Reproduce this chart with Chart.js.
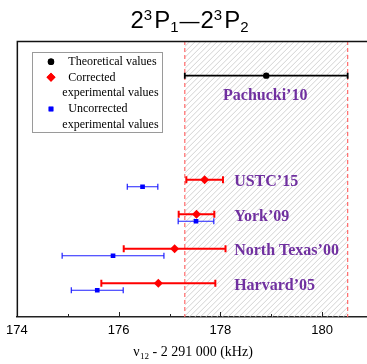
<!DOCTYPE html>
<html>
<head>
<meta charset="utf-8">
<script src="https://cdn.jsdelivr.net/npm/chart.js@4.4.1/dist/chart.umd.min.js"></script>
<style>
  html,body{margin:0;padding:0;background:#fff;overflow:hidden;}
  canvas{display:block;}
</style>
</head>
<body>
<canvas id="chart" width="367" height="364"></canvas>
<script>
// experiments, top to bottom
const labels=['USTC\u201915','York\u201909','North Texas\u201900','Harvard\u201905'];
const corrected=[177.69,177.53,177.10,176.78];
const correctedErr=[0.36,0.35,1.00,1.12];
const uncorrected=[176.47,177.52,175.89,175.58];
const uncorrectedErr=[0.30,0.35,1.00,0.51];
// theory
const theoryLabel='Pachucki\u201910';
const theory=[178.9];
const theoryErr=[1.6];
const xTicks=[174,176,178,180];
const xMinor=[175,177,179];

// layout of rows on a hidden y scale
const THEORY_ROW=7.12, PAIR_OFF=0.1;
const rowOf=i=>labels.length-i;
const PURPLE='#7030a0';

const errorBars={
  id:'errorBars',
  beforeDatasetsDraw(chart){
    const {ctx,scales:{x,y}}=chart;
    chart.data.datasets.forEach(ds=>{
      ctx.save();
      ctx.strokeStyle=ds.borderColor;
      ctx.lineWidth=ds.barWidth;
      ds.data.forEach((p,i)=>{
        const e=ds.errors[i];
        const x0=x.getPixelForValue(p.x-e),x1=x.getPixelForValue(p.x+e),py=y.getPixelForValue(p.y);
        const c=ds.capHalf;
        ctx.beginPath();
        ctx.moveTo(x0,py);ctx.lineTo(x1,py);
        ctx.moveTo(x0,py-c);ctx.lineTo(x0,py+c);
        ctx.moveTo(x1,py-c);ctx.lineTo(x1,py+c);
        ctx.stroke();
      });
      ctx.restore();
    });
  }
};

const backdrop={
  id:'backdrop',
  beforeDatasetsDraw(chart){
    const {ctx,chartArea:a,scales:{x}}=chart;
    const xl=x.getPixelForValue(theory[0]-theoryErr[0]);
    const xr=x.getPixelForValue(theory[0]+theoryErr[0]);
    const h=a.bottom-a.top;
    ctx.save();
    // hatch
    ctx.beginPath();ctx.rect(xl,a.top,xr-xl,h);ctx.clip();
    ctx.strokeStyle='#c6c6c6';ctx.lineWidth=0.8;
    ctx.beginPath();
    for(let s=xl-h;s<xr+10;s+=5.5){
      ctx.moveTo(s,a.bottom);ctx.lineTo(s+h,a.top);
    }
    ctx.stroke();
    ctx.restore();
    // dashed limits
    ctx.save();
    ctx.strokeStyle='#ff6a6a';ctx.lineWidth=1.2;ctx.setLineDash([4,3]);
    [xl,xr].forEach(px=>{ctx.beginPath();ctx.moveTo(px,a.top);ctx.lineTo(px,a.bottom);ctx.stroke();});
    ctx.restore();
    // inward ticks
    ctx.save();
    ctx.lineWidth=1;ctx.strokeStyle='#222';
    ctx.beginPath();
    xTicks.forEach(v=>{const px=Math.round(x.getPixelForValue(v))+0.5;ctx.moveTo(px,a.bottom);ctx.lineTo(px,a.bottom-5);});
    xMinor.forEach(v=>{const px=Math.round(x.getPixelForValue(v))+0.5;ctx.moveTo(px,a.bottom);ctx.lineTo(px,a.bottom-3);});
    ctx.stroke();
    ctx.restore();
  }
};

function drawRuns(ctx,runs,cx,baseY){
  // runs: [text, fontSize, dy, family, gapAfter]
  let w=0;
  runs.forEach(r=>{ctx.font=r[1]+'px '+r[3];w+=ctx.measureText(r[0]).width+(r[4]||0);});
  let px=cx-w/2;
  ctx.textAlign='left';ctx.textBaseline='alphabetic';
  runs.forEach(r=>{ctx.font=r[1]+'px '+r[3];ctx.fillText(r[0],px,baseY+r[2]);px+=ctx.measureText(r[0]).width+(r[4]||0);});
}

const annotations={
  id:'annotations',
  afterDraw(chart){
    const {ctx,chartArea:a,scales:{x,y}}=chart;
    ctx.save();
    // right edge is open: keep it clean
    ctx.fillStyle='#fff';
    ctx.fillRect(a.right-4,a.top+1,4,a.bottom-a.top-2);
    // frame: left and top
    ctx.strokeStyle='#111';ctx.lineWidth=1.5;
    ctx.beginPath();ctx.moveTo(a.left+0.5,a.bottom);ctx.lineTo(a.left+0.5,a.top+0.5);ctx.lineTo(a.right,a.top+0.5);ctx.stroke();
    // study labels
    ctx.fillStyle=PURPLE;
    ctx.font='bold 16px "Liberation Serif"';
    ctx.textBaseline='middle';
    ctx.textAlign='center';
    ctx.fillText(theoryLabel,x.getPixelForValue(theory[0])-1,y.getPixelForValue(THEORY_ROW)+20);
    ctx.textAlign='left';
    labels.forEach((t,i)=>ctx.fillText(t,x.getPixelForValue(178.27),y.getPixelForValue(rowOf(i))-1));
    // legend
    ctx.fillStyle='#fff';ctx.strokeStyle='#9a9a9a';ctx.lineWidth=1;
    ctx.fillRect(32.5,52.5,130,80);ctx.strokeRect(32.5,52.5,130,80);
    const ds=chart.data.datasets;
    const mk=[[ds[0],61.7],[ds[1],77.3],[ds[2],109]];
    mk.forEach(([d,my])=>{
      ctx.fillStyle=d.backgroundColor;ctx.strokeStyle=d.borderColor;
      Chart.helpers.drawPoint(ctx,{pointStyle:d.pointStyle,radius:d.pointRadius,borderWidth:0},51,my);
      ctx.fill();
    });
    ctx.fillStyle='#000';ctx.font='12px "Liberation Serif"';ctx.textBaseline='middle';ctx.textAlign='left';
    ctx.fillText('Theoretical values',68.3,62);
    ctx.fillText('Corrected',68.3,77.5);
    ctx.fillText('experimental values',62.3,93.3);
    ctx.fillText('Uncorrected',68.3,109);
    ctx.fillText('experimental values',62.3,124.5);
    // title
    const SANS='"Liberation Sans"';
    drawRuns(ctx,[['2',24,0,SANS],['3',15,-8.5,SANS,2],['P',24,0,SANS],['1',15,3.5,SANS,1],['\u2014',20,0,SANS,1],['2',24,0,SANS],['3',15,-8.5,SANS,2],['P',24,0,SANS],['2',15,3.5,SANS]],189.5,28.3);
    // x axis title
    const SERIF='"Liberation Serif"';
    drawRuns(ctx,[['\u03bd',14,0,SERIF,0.5],['12',9,3,SERIF,0],[' - 2 291 000 (kHz)',14,0,SERIF]],193,356);
    ctx.restore();
  }
};

new Chart(document.getElementById('chart'),{
  type:'scatter',
  data:{datasets:[
    {label:'Theoretical values',data:theory.map(v=>({x:v,y:THEORY_ROW})),errors:theoryErr,
     pointStyle:'circle',pointRadius:3.2,backgroundColor:'#000',borderColor:'#000',borderWidth:0,barWidth:1.8,capHalf:3},
    {label:'Corrected experimental values',data:corrected.map((v,i)=>({x:v,y:rowOf(i)+PAIR_OFF})),errors:correctedErr,
     pointStyle:'rectRot',pointRadius:4.5,backgroundColor:'#ff0000',borderColor:'#ff0000',borderWidth:0,barWidth:2,capHalf:3.5},
    {label:'Uncorrected experimental values',data:uncorrected.map((v,i)=>({x:v,y:rowOf(i)-PAIR_OFF})),errors:uncorrectedErr,
     pointStyle:'rect',pointRadius:3.3,backgroundColor:'#0000ff',borderColor:'#2020ff',borderWidth:0,barWidth:1.2,capHalf:3}
  ]},
  options:{
    responsive:false,animation:false,devicePixelRatio:1,
    layout:{autoPadding:false,padding:{left:16,top:41,right:0,bottom:0}},
    plugins:{legend:{display:false},tooltip:{enabled:false},title:{display:false}},
    scales:{
      x:{type:'linear',min:174,max:180.88,
        afterBuildTicks:s=>{s.ticks=xTicks.map(v=>({value:v}));},
        afterFit:s=>{s.height=47;},
        grid:{display:false,drawTicks:false},
        border:{display:true,color:'#222',width:1.5},
        ticks:{padding:6,color:'#000',font:{family:'"Liberation Sans"',size:13}}},
      y:{display:false,min:0.125,max:8.125}
    }
  },
  plugins:[backdrop,errorBars,annotations]
});
</script>
</body>
</html>
